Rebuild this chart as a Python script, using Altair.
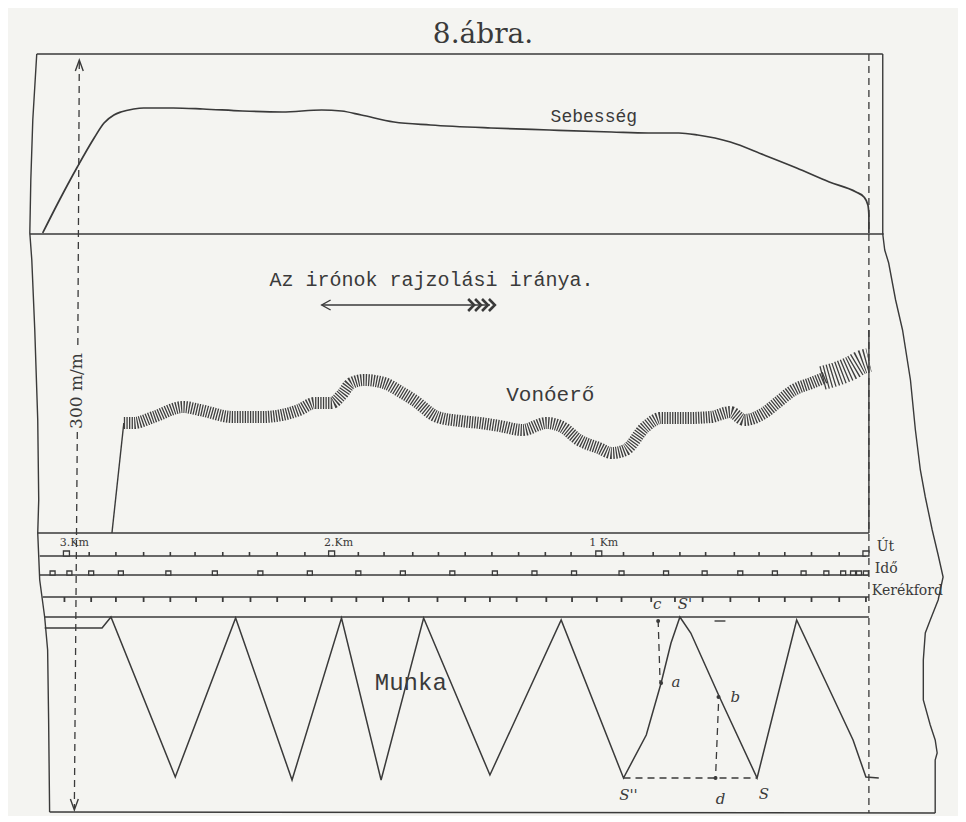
import altair as alt
import pandas as pd

INK = "#3a3a3a"
BG = "#f4f4f1"
SERIF = "DejaVu Serif"
MONO = "Liberation Mono"

# ---- Sebesség (speed) curve (page px) ----
SPEED_X = [38, 55, 73, 90, 100, 110, 117, 130, 140, 170, 200, 240, 280, 320, 340, 360, 393, 430,
           491, 550, 613, 650, 681, 700, 733, 767, 800, 833, 860, 868, 872, 873, 873]
SPEED_Y = [233, 200, 167, 138, 123, 115, 112, 109, 108, 108, 109, 111, 112, 110, 111, 115, 122, 125,
           128, 130, 132, 133, 133, 135, 142, 155, 168, 182, 192, 197, 205, 215, 233]

# ---- Vonóerő (draw-bar pull) centre line ----
PULL_X = [120, 130, 150, 180, 197, 230, 260, 280, 297, 313, 330, 340, 350, 363, 383, 400, 413, 437,
          460, 480, 500, 523, 547, 563, 580, 600, 613, 627, 647, 663, 690, 713, 733, 747, 767, 780,
          797, 815, 830]
PULL_Y = [423, 423, 417, 407, 410, 417, 417, 415, 410, 403, 403, 395, 383, 380, 383, 392, 400, 417,
          421, 423, 426, 430, 423, 427, 440, 448, 453, 450, 427, 418, 418, 417, 412, 420, 413, 403,
          390, 383, 377]
PULL_END_X = [826, 840, 855, 866, 873]
PULL_END_Y = [378, 374, 368, 362, 360]
PULL_START_X = [108, 120]
PULL_START_Y = [533, 423]

# ---- Munka (work) zigzag ----
WORK_X = [40, 98, 107, 172, 233, 290, 340, 380, 423, 490, 562, 625, 648, 663, 673, 682, 693, 722,
          760, 800, 830, 857, 870, 883]
WORK_Y = [628, 628, 617, 777, 618, 780, 618, 780, 618, 775, 620, 778, 735, 683, 643, 617, 633, 697,
          778, 620, 683, 740, 777, 778]

# ---- recorder strips ----
STRIP_TOP, UT_Y, IDO_Y, KER_Y, MUNKA_TOP = 533, 556, 575, 597, 617
UT_TICKS = [85, 112, 140, 167, 192, 220, 247, 275, 303, 357, 383, 412, 438, 465, 492, 519, 546,
            572, 625, 655, 682, 708, 737, 762, 788, 815, 843]
UT_KM = [62, 330, 600, 870]
KM_LABELS = ["3.Km", "2.Km", "1 Km"]
KM_LABEL_X = [70, 337, 605]
IDO_PULSES = [48, 65, 87, 117, 165, 212, 258, 308, 357, 402, 452, 495, 535, 575, 623, 668, 707,
              743, 778, 807, 830, 847, 857, 863, 870]
KER_TICKS = [60, 87, 112, 140, 167, 193, 220, 248, 275, 303, 330, 355, 382, 408, 437, 465, 490,
             517, 547, 573, 598, 623, 653, 677, 705, 733, 762, 788, 815, 843, 870]

# ---- frame / construction lines ----
SOLID_LINES = {
    "top": ([32, 887], [54, 54]),
    "topright": ([887, 887], [54, 234]),
    "base": ([25, 888], [234, 234]),
    "left": ([32, 28, 26, 25, 27, 30, 33, 34, 33, 35, 40, 43, 44, 45],
             [54, 120, 180, 233, 260, 330, 420, 500, 533, 580, 617, 650, 720, 812]),
    "right": ([887, 889, 893, 900, 907, 915, 920, 925, 930, 937, 943, 948, 943, 935, 930, 928, 928,
               935, 940, 942, 940, 940],
              [234, 250, 263, 300, 330, 380, 430, 470, 497, 530, 555, 577, 600, 620, 633, 660, 700,
               725, 740, 753, 760, 813]),
    "bottom": ([45, 940], [812, 813]),
    "strip_top": ([33, 873], [STRIP_TOP, STRIP_TOP]),
    "ut": ([35, 870], [UT_Y, UT_Y]),
    "ido": ([35, 872], [IDO_Y, IDO_Y]),
    "ker": ([38, 873], [KER_Y, KER_Y]),
    "munka_top": ([40, 873], [MUNKA_TOP, MUNKA_TOP]),
    "right_solid": ([873, 873], [330, 533]),
    "pull_start": (PULL_START_X, PULL_START_Y),
    "dash_small": ([717, 728], [621, 621]),
    "dir_arrow": ([320, 490], [305, 305]),
    "dir_head": ([329, 320, 329], [300, 305, 310]),
    "scale_head_top": ([71, 75, 79], [71, 60, 71]),
    "scale_head_bot": ([66, 70, 74], [799, 810, 799]),
}
FEATHERS = {
    "feather1": ([468, 474, 468], [299, 305, 311]),
    "feather2": ([475, 481, 475], [299, 305, 311]),
    "feather3": ([482, 488, 482], [299, 305, 311]),
    "feather4": ([489, 495, 489], [299, 305, 311]),
}
DASHED_LINES = {
    "scale_up": ([75, 73.5], [62, 350]),
    "scale_dn": ([73, 70], [432, 808]),
    "right_dash": ([873, 873], [54, 813]),
    "c_a": ([660, 662], [620, 683]),
    "b_d": ([721, 718], [704, 778]),
    "s_s": ([625, 760], [778, 778]),
}
DOT_X = [660, 663, 721, 718]
DOT_Y = [621, 683, 697, 778]

LETTERS = ["c", "S'", "a", "b", "S''", "d", "S"]
LETTER_X = [659, 687, 678, 738, 630, 723, 767]
LETTER_Y = [604, 604, 682, 697, 795, 799, 794]


def polys(d):
    rows = []
    for name, (xs, ys) in d.items():
        for i, (x, y) in enumerate(zip(xs, ys)):
            rows.append({"g": name, "i": i, "x": x, "y": y})
    return pd.DataFrame(rows)


def pts(xs, ys, **extra):
    df = pd.DataFrame({"x": xs, "y": ys})
    for k, v in extra.items():
        df[k] = v
    return df


X = alt.X("x:Q", scale=alt.Scale(domain=[8, 958], nice=False, zero=False), axis=None)
Y = alt.Y("y:Q", scale=alt.Scale(domain=[8, 814], nice=False, zero=False, reverse=True), axis=None)

solid = alt.Chart(polys(SOLID_LINES)).mark_line(color=INK, strokeWidth=1.4).encode(
    X, Y, detail="g:N", order="i:Q")
feathers = alt.Chart(polys(FEATHERS)).mark_line(color=INK, strokeWidth=2.6).encode(
    X, Y, detail="g:N", order="i:Q")
dashed = alt.Chart(polys(DASHED_LINES)).mark_line(color=INK, strokeWidth=1.3, strokeDash=[7, 5]).encode(
    X, Y, detail="g:N", order="i:Q")

speed = alt.Chart(pts(SPEED_X, SPEED_Y, i=list(range(len(SPEED_X))))).mark_line(
    color=INK, strokeWidth=1.7, interpolate="monotone").encode(X, Y, order="i:Q")

pull = alt.Chart(pts(PULL_X, PULL_Y, i=list(range(len(PULL_X))))).mark_line(
    color="#3f3f3f", strokeWidth=12, strokeDash=[1.3, 1.3], strokeCap="butt",
    interpolate="monotone").encode(X, Y, order="i:Q")
pull_end = alt.Chart(pts(PULL_END_X, PULL_END_Y, i=list(range(len(PULL_END_X))))).mark_line(
    color="#3f3f3f", strokeWidth=24, strokeDash=[1.3, 2.0], strokeCap="butt",
    interpolate="monotone").encode(X, Y, order="i:Q")

work = alt.Chart(pts(WORK_X, WORK_Y, i=list(range(len(WORK_X))))).mark_line(
    color=INK, strokeWidth=1.5).encode(X, Y, order="i:Q")

ut_ticks = alt.Chart(pts(UT_TICKS, [UT_Y] * len(UT_TICKS), y2=UT_Y - 4)).mark_rule(
    color=INK, strokeWidth=1.6).encode(X, Y, y2="y2:Q")
ker_ticks = alt.Chart(pts(KER_TICKS, [KER_Y] * len(KER_TICKS), y2=KER_Y + 5)).mark_rule(
    color=INK, strokeWidth=1.8).encode(X, Y, y2="y2:Q")
km_bumps = alt.Chart(pts(UT_KM, [UT_Y] * len(UT_KM), y2=UT_Y - 5)).mark_bar(
    size=6, fill=BG, stroke=INK, strokeWidth=1.3).encode(X, Y, y2="y2:Q")
ido_bumps = alt.Chart(pts(IDO_PULSES, [IDO_Y] * len(IDO_PULSES), y2=IDO_Y - 4)).mark_bar(
    size=5, fill=BG, stroke=INK, strokeWidth=1.3).encode(X, Y, y2="y2:Q")

dots = alt.Chart(pts(DOT_X, DOT_Y)).mark_point(filled=True, size=16, color=INK, opacity=1).encode(X, Y)


def label(texts, xs, ys, size, font=SERIF, align="center", angle=0, style="normal"):
    df = pd.DataFrame({"t": texts, "x": xs, "y": ys})
    return alt.Chart(df).mark_text(font=font, fontSize=size, color=INK, align=align,
                                   baseline="middle", angle=angle, fontStyle=style).encode(X, Y, text="t:N")


title = label(["8.ábra."], [483], [35], 28)
sebesseg = label(["Sebesség"], [595], [117], 18, font=MONO)
direction = label(["Az irónok rajzolási iránya."], [431], [280], 20, font=MONO)
vonoero = label(["Vonóerő"], [551], [395], 21, font=MONO)
munka = label(["Munka"], [410], [683], 24, font=MONO)
scale_lbl = label(["300 m/m"], [73], [391], 17, angle=270)
km_lbl = label(KM_LABELS, KM_LABEL_X, [543] * 3, 11)
strip_lbl = label(["Út", "Idő", "Kerékford"], [881, 879, 876], [547, 569, 591], 14, align="left")
letters = label(LETTERS, LETTER_X, LETTER_Y, 15, style="italic")

chart = alt.layer(
    solid, feathers, dashed, speed, pull, pull_end, work, ut_ticks, ker_ticks, km_bumps, ido_bumps,
    dots, title, sebesseg, direction, vonoero, munka, scale_lbl, km_lbl, strip_lbl, letters,
).properties(width=950, height=806, padding=0, background=BG).configure_view(stroke=None)

chart.save("out.html", embed_options={"renderer": "svg", "actions": False})
